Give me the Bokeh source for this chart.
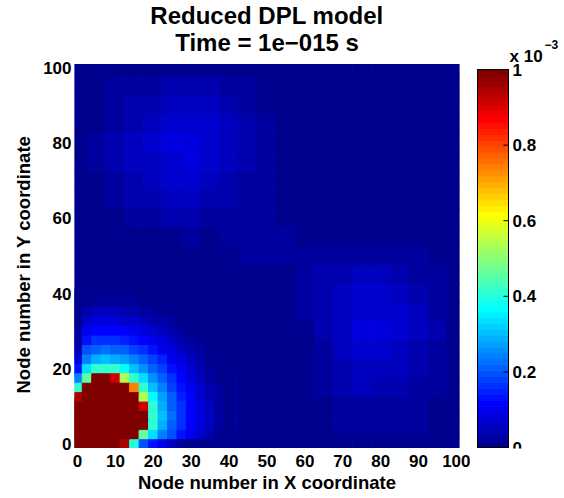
import numpy as np
from bokeh.plotting import figure
from bokeh.models import (ColumnDataSource, LinearColorMapper, FixedTicker, Title, Range1d)
from bokeh.core.properties import value
from bokeh.layouts import row
from bokeh.transform import transform
from bokeh.embed import file_html
from bokeh.resources import INLINE

# ---------------- data (values in units of 1e-3) ----------------
# coarse grid over the whole plate (node step 5)
x_nodes = [0, 5, 10, 15, 20, 25, 30, 35, 40, 45, 50, 55, 60, 65, 70, 75, 80, 85, 90, 95, 100]
y_nodes = [100, 95, 90, 85, 80, 75, 70, 65, 60, 55, 50, 45, 40, 35, 30, 25, 20, 15, 10, 5, 0]
field_e3 = [
    [0.000, 0.002, 0.003, 0.005, 0.006, 0.007, 0.008, 0.007, 0.005, 0.004, 0.001, 0.000, 0.000, 0.000, 0.000, 0.000, 0.000, 0.000, 0.000, 0.000, 0.000],
    [0.002, 0.008, 0.016, 0.024, 0.029, 0.036, 0.040, 0.034, 0.026, 0.018, 0.006, 0.002, 0.000, 0.000, 0.000, 0.000, 0.000, 0.000, 0.000, 0.000, 0.000],
    [0.003, 0.011, 0.024, 0.036, 0.043, 0.053, 0.059, 0.050, 0.038, 0.026, 0.012, 0.003, 0.001, 0.000, 0.000, 0.000, 0.000, 0.000, 0.000, 0.000, 0.000],
    [0.003, 0.014, 0.030, 0.045, 0.054, 0.067, 0.074, 0.063, 0.048, 0.033, 0.016, 0.003, 0.001, 0.000, 0.000, 0.000, 0.000, 0.000, 0.000, 0.000, 0.000],
    [0.004, 0.017, 0.035, 0.054, 0.065, 0.079, 0.088, 0.074, 0.057, 0.039, 0.018, 0.004, 0.001, 0.000, 0.000, 0.000, 0.000, 0.000, 0.000, 0.000, 0.000],
    [0.004, 0.016, 0.034, 0.052, 0.062, 0.077, 0.085, 0.072, 0.055, 0.038, 0.018, 0.004, 0.001, 0.000, 0.000, 0.000, 0.000, 0.000, 0.000, 0.000, 0.000],
    [0.003, 0.013, 0.028, 0.043, 0.051, 0.063, 0.070, 0.059, 0.045, 0.031, 0.017, 0.003, 0.001, 0.000, 0.000, 0.000, 0.000, 0.000, 0.000, 0.000, 0.000],
    [0.002, 0.010, 0.022, 0.034, 0.040, 0.050, 0.055, 0.046, 0.035, 0.024, 0.017, 0.003, 0.001, 0.000, 0.000, 0.000, 0.000, 0.000, 0.000, 0.000, 0.000],
    [0.002, 0.007, 0.014, 0.021, 0.026, 0.032, 0.035, 0.030, 0.023, 0.016, 0.017, 0.004, 0.003, 0.002, 0.002, 0.002, 0.002, 0.002, 0.001, 0.001, 0.000],
    [0.002, 0.004, 0.007, 0.011, 0.012, 0.015, 0.016, 0.014, 0.017, 0.018, 0.020, 0.018, 0.003, 0.004, 0.005, 0.006, 0.006, 0.005, 0.004, 0.002, 0.000],
    [0.002, 0.003, 0.004, 0.005, 0.005, 0.006, 0.007, 0.006, 0.008, 0.016, 0.018, 0.018, 0.018, 0.019, 0.020, 0.021, 0.021, 0.020, 0.017, 0.012, 0.002],
    [0.004, 0.010, 0.013, 0.013, 0.011, 0.010, 0.008, 0.006, 0.005, 0.004, 0.009, 0.014, 0.022, 0.032, 0.042, 0.048, 0.047, 0.040, 0.031, 0.019, 0.003],
    [0.004, 0.010, 0.012, 0.012, 0.010, 0.008, 0.006, 0.004, 0.002, 0.004, 0.007, 0.010, 0.019, 0.034, 0.050, 0.064, 0.064, 0.054, 0.041, 0.026, 0.004],
    [0.030, 0.070, 0.085, 0.085, 0.080, 0.065, 0.045, 0.030, 0.003, 0.007, 0.007, 0.008, 0.016, 0.034, 0.055, 0.078, 0.077, 0.064, 0.049, 0.031, 0.005],
    [0.060, 0.140, 0.160, 0.160, 0.150, 0.120, 0.090, 0.050, 0.004, 0.010, 0.007, 0.006, 0.013, 0.033, 0.055, 0.086, 0.085, 0.068, 0.050, 0.033, 0.005],
    [0.120, 0.250, 0.280, 0.280, 0.250, 0.200, 0.140, 0.080, 0.008, 0.012, 0.007, 0.005, 0.011, 0.028, 0.050, 0.076, 0.074, 0.060, 0.046, 0.030, 0.004],
    [0.250, 0.420, 0.450, 0.450, 0.380, 0.280, 0.180, 0.100, 0.015, 0.012, 0.007, 0.004, 0.009, 0.022, 0.042, 0.061, 0.060, 0.048, 0.037, 0.024, 0.004],
    [0.550, 1.100, 1.150, 1.000, 0.500, 0.330, 0.200, 0.100, 0.020, 0.012, 0.006, 0.003, 0.007, 0.016, 0.032, 0.047, 0.046, 0.037, 0.028, 0.019, 0.003],
    [1.050, 1.200, 1.200, 1.050, 0.480, 0.320, 0.200, 0.100, 0.020, 0.012, 0.006, 0.002, 0.005, 0.012, 0.022, 0.031, 0.030, 0.024, 0.019, 0.012, 0.002],
    [1.100, 1.200, 1.200, 1.050, 0.450, 0.300, 0.180, 0.090, 0.020, 0.012, 0.005, 0.002, 0.004, 0.010, 0.016, 0.019, 0.019, 0.017, 0.016, 0.008, 0.001],
    [1.200, 1.200, 1.100, 0.380, 0.120, 0.040, 0.015, 0.008, 0.003, 0.002, 0.002, 0.001, 0.002, 0.004, 0.006, 0.008, 0.007, 0.006, 0.005, 0.003, 0.000],
]

# finer reading of the hot corner (node step 2.5)
x_fine = [0, 2.5, 5, 7.5, 10, 12.5, 15, 17.5, 20, 22.5, 25, 27.5, 30, 32.5, 35, 37.5, 40]
y_fine = [40, 37.5, 35, 32.5, 30, 27.5, 25, 22.5, 20, 17.5, 15, 12.5, 10, 7.5, 5, 2.5, 0]
corner_e3 = [
    [0.002, 0.006, 0.009, 0.009, 0.009, 0.008, 0.007, 0.006, 0.005, 0.004, 0.003, 0.003, 0.002, 0.002, 0.001, 0.001, 0.001],
    [0.004, 0.013, 0.024, 0.025, 0.023, 0.020, 0.016, 0.011, 0.009, 0.006, 0.005, 0.004, 0.003, 0.002, 0.002, 0.001, 0.001],
    [0.006, 0.036, 0.049, 0.050, 0.048, 0.045, 0.039, 0.031, 0.021, 0.012, 0.008, 0.006, 0.004, 0.003, 0.002, 0.002, 0.001],
    [0.010, 0.066, 0.081, 0.083, 0.080, 0.074, 0.068, 0.056, 0.044, 0.032, 0.018, 0.010, 0.006, 0.004, 0.003, 0.002, 0.002],
    [0.018, 0.098, 0.119, 0.120, 0.117, 0.110, 0.100, 0.086, 0.071, 0.053, 0.038, 0.022, 0.010, 0.006, 0.004, 0.003, 0.002],
    [0.028, 0.140, 0.168, 0.170, 0.166, 0.156, 0.140, 0.120, 0.101, 0.080, 0.061, 0.040, 0.022, 0.010, 0.006, 0.004, 0.003],
    [0.045, 0.190, 0.218, 0.220, 0.215, 0.204, 0.186, 0.163, 0.136, 0.109, 0.083, 0.061, 0.038, 0.018, 0.008, 0.005, 0.003],
    [0.080, 0.246, 0.295, 0.300, 0.290, 0.266, 0.237, 0.206, 0.175, 0.142, 0.109, 0.080, 0.053, 0.032, 0.012, 0.006, 0.004],
    [0.130, 0.335, 0.414, 0.420, 0.410, 0.373, 0.310, 0.259, 0.212, 0.175, 0.136, 0.101, 0.071, 0.044, 0.021, 0.009, 0.005],
    [0.240, 0.460, 0.990, 1.050, 0.920, 0.545, 0.412, 0.330, 0.259, 0.206, 0.163, 0.120, 0.086, 0.056, 0.031, 0.011, 0.006],
    [0.420, 1.150, 1.200, 1.200, 1.200, 1.200, 0.740, 0.412, 0.310, 0.237, 0.186, 0.140, 0.100, 0.068, 0.039, 0.016, 0.007],
    [0.950, 1.200, 1.200, 1.200, 1.200, 1.200, 1.200, 0.545, 0.373, 0.266, 0.204, 0.156, 0.110, 0.074, 0.045, 0.020, 0.008],
    [1.200, 1.200, 1.200, 1.200, 1.200, 1.200, 1.200, 0.920, 0.410, 0.290, 0.215, 0.166, 0.117, 0.080, 0.048, 0.023, 0.009],
    [1.200, 1.200, 1.200, 1.200, 1.200, 1.200, 1.200, 1.050, 0.420, 0.300, 0.220, 0.170, 0.120, 0.083, 0.050, 0.025, 0.009],
    [1.200, 1.200, 1.200, 1.200, 1.200, 1.200, 1.200, 0.990, 0.414, 0.295, 0.218, 0.168, 0.119, 0.081, 0.049, 0.024, 0.009],
    [1.200, 1.200, 1.200, 1.200, 1.200, 1.200, 1.150, 0.460, 0.335, 0.246, 0.190, 0.140, 0.098, 0.066, 0.036, 0.013, 0.006],
    [1.200, 1.200, 1.200, 1.200, 1.200, 0.950, 0.400, 0.200, 0.130, 0.100, 0.050, 0.025, 0.015, 0.010, 0.006, 0.004, 0.002],
]

x_ticks = [0, 10, 20, 30, 40, 50, 60, 70, 80, 90, 100]
y_ticks = [0, 20, 40, 60, 80, 100]
cbar_ticks = [0, 0.2, 0.4, 0.6, 0.8, 1.0]
cbar_tick_labels = ["0", "0.2", "0.4", "0.6", "0.8", "1"]
title_lines = ["Reduced DPL model", "Time = 1e\u2212015 s"]
x_label = "Node number in X coordinate"
y_label = "Node number in Y coordinate"
cbar_low, cbar_high = 0.0, 1.0
cbar_exponent = ["x 10", "\u22123"]


# ---------------- MATLAB jet(64) colormap ----------------
def jet(m=64):
    n = int(np.ceil(m / 4))
    u = np.concatenate([np.arange(1, n + 1) / n, np.ones(n - 1), np.arange(n, 0, -1) / n])
    g = int(np.ceil(n / 2)) - (1 if m % 4 == 1 else 0) + np.arange(1, len(u) + 1)
    J = np.zeros((m, 3))
    for col, idxs in ((0, g + n), (1, g), (2, g - n)):
        for k, idx in enumerate(idxs):
            if 1 <= idx <= m:
                J[idx - 1, col] = u[k]
    return ["#%02x%02x%02x" % tuple(int(round(c * 255)) for c in rgb) for rgb in J]


palette = jet(64)
mapper = LinearColorMapper(palette=palette, low=cbar_low, high=cbar_high)

# plate extent (half a marker beyond the first/last node)
PLATE_LO, PLATE_HI = -0.8, 100.8


def cell_source(xn, yn, table):
    half = (xn[1] - xn[0]) / 2.0
    L, R, B, T, V = [], [], [], [], []
    for j, yv in enumerate(yn):
        for i, xv in enumerate(xn):
            L.append(max(xv - half, PLATE_LO))
            R.append(min(xv + half, PLATE_HI))
            B.append(max(yv - half, PLATE_LO))
            T.append(min(yv + half, PLATE_HI))
            V.append(table[j][i])
    return ColumnDataSource(dict(left=L, right=R, bottom=B, top=T, v=V))


src_coarse = cell_source(x_nodes, y_nodes, field_e3)
src_fine = cell_source(x_fine, y_fine, corner_e3)

FONT = "Liberation Sans"
TICK_SIZE = "17px"
FIG_H, BOTTOM = 498, 50
FRAME_H = FIG_H - BOTTOM                 # frames start at the very top of the page
PLATE_TOP_PX = 64                        # page row of the plate's upper edge
s_main = (FRAME_H - 1 - PLATE_TOP_PX) / (PLATE_HI - PLATE_LO)   # px per node
y_lo = PLATE_LO - 1 / s_main
y_hi = PLATE_HI + PLATE_TOP_PX / s_main

p = figure(width=470, height=FIG_H, x_range=Range1d(PLATE_LO, PLATE_HI), y_range=Range1d(y_lo, y_hi),
           output_backend="svg", toolbar_location=None,
           min_border_left=74, min_border_right=11, min_border_top=0, min_border_bottom=BOTTOM)
p.title.text = ""
p.quad(left="left", right="right", bottom="bottom", top="top", source=src_coarse,
       fill_color=transform("v", mapper), line_color=transform("v", mapper), line_width=1)
p.quad(left="left", right="right", bottom="bottom", top="top", source=src_fine,
       fill_color=transform("v", mapper), line_color=transform("v", mapper), line_width=1)


def main_y(px):   # page pixel row -> main data y
    return y_lo + (FRAME_H - px) / s_main


# two centred title lines (visual centres at page rows 15 and 41.5)
p.text(x=[50, 50], y=[main_y(15), main_y(41.5)], text=title_lines,
       text_align="center", text_baseline="middle",
       text_font=value(FONT), text_font_style="bold", text_font_size=value("24px"),
       text_color="black")

p.xaxis.ticker = FixedTicker(ticks=x_ticks)
p.yaxis.ticker = FixedTicker(ticks=y_ticks)
for ax in (p.xaxis[0], p.yaxis[0]):
    ax.axis_line_color = None
    ax.major_tick_line_color = None
    ax.minor_tick_line_color = None
    ax.major_tick_out = 0
    ax.major_tick_in = 0
    ax.major_label_text_font = FONT
    ax.major_label_text_font_style = "bold"
    ax.major_label_text_font_size = TICK_SIZE
    ax.major_label_text_color = "black"
    ax.axis_label_text_font = FONT
    ax.axis_label_text_font_style = "bold"
    ax.axis_label_text_font_size = "18.5px"
    ax.axis_label_text_color = "black"
p.xaxis.axis_label = x_label
p.xaxis.major_label_standoff = 6
p.xaxis.axis_label_standoff = 2
p.yaxis.major_label_standoff = 3
# y label as a side title so that it is centred on the plate, not on the taller frame
p.add_layout(Title(text=y_label, align="left", offset=55, standoff=14, text_font=FONT,
                   text_font_style="bold", text_font_size="18.5px", text_color="black"), "left")
p.grid.visible = False
p.outline_line_color = None

# ---------------- colour bar ----------------
# bar spans 477..508 px horizontally and 69..447 px vertically
CB_LEFT_PX, CB_W_PX = 477, 31
CB_TOP_PX, CB_BOT_PX = 69, 447
s_cb_y = (CB_BOT_PX - CB_TOP_PX) / (cbar_high - cbar_low)
cb_frame_left = CB_LEFT_PX - 1
cb_width = 564 - 470
cb_x_lo = -1 / CB_W_PX
cb_x_hi = cb_x_lo + (470 + cb_width - cb_frame_left) / CB_W_PX
cb_y_lo = cbar_low - (FRAME_H - CB_BOT_PX) / s_cb_y
cb_y_hi = cbar_high + CB_TOP_PX / s_cb_y

cb = figure(width=cb_width, height=FIG_H,
            x_range=Range1d(cb_x_lo, cb_x_hi), y_range=Range1d(cb_y_lo, cb_y_hi),
            x_axis_location=None, y_axis_location=None,
            output_backend="svg", toolbar_location=None,
            min_border_left=cb_frame_left - 470, min_border_right=0, min_border_top=0,
            min_border_bottom=BOTTOM)
cb.title.text = ""
nc = len(palette)
cb_y = [cbar_low + (k + 0.5) * (cbar_high - cbar_low) / nc for k in range(nc)]
cb.rect(x=0.5, y=cb_y, width=1, height=(cbar_high - cbar_low) / nc,
        fill_color=palette, line_color=palette, line_width=1)
cb.rect(x=0.5, y=(cbar_low + cbar_high) / 2, width=1, height=cbar_high - cbar_low,
        fill_color=None, line_color="black", line_width=1)
tick_len = 5 / CB_W_PX
cb.segment(x0=[1 - tick_len] * len(cbar_ticks), y0=cbar_ticks, x1=[1] * len(cbar_ticks),
           y1=cbar_ticks, line_color="black", line_width=1)
cb.text(x=[1 + 4 / CB_W_PX] * len(cbar_ticks), y=cbar_ticks, text=cbar_tick_labels,
        text_align="left", text_baseline="middle",
        text_font=value(FONT), text_font_style="bold", text_font_size=value(TICK_SIZE),
        text_color="black")


def cb_x(px):
    return (px - CB_LEFT_PX) / CB_W_PX


def cb_yv(px):
    return cbar_low + (CB_BOT_PX - px) / s_cb_y


cb.text(x=[cb_x(509)], y=[cb_yv(56)], text=[cbar_exponent[0]], text_align="left",
        text_baseline="middle", text_font=value(FONT), text_font_style="bold",
        text_font_size=value("17px"), text_color="black")
cb.text(x=[cb_x(544)], y=[cb_yv(44)], text=[cbar_exponent[1]], text_align="left",
        text_baseline="middle", text_font=value(FONT), text_font_style="bold",
        text_font_size=value("12px"), text_color="black")
cb.grid.visible = False
cb.outline_line_color = None

layout = row(p, cb, spacing=0)
open("out.html", "w").write(file_html(layout, INLINE))
